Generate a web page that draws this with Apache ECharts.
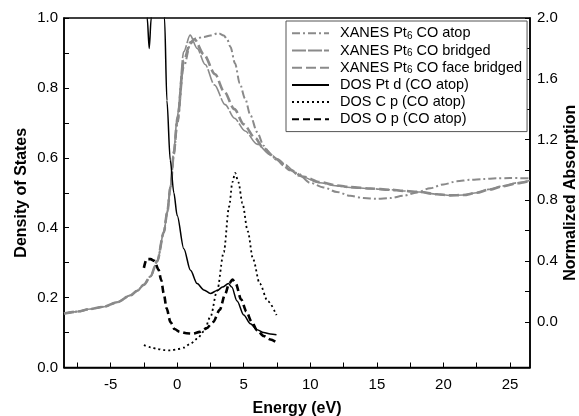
<!DOCTYPE html>
<html><head><meta charset="utf-8">
<script src="https://cdn.jsdelivr.net/npm/echarts@6/dist/echarts.min.js"></script>
<style>html,body{margin:0;padding:0;background:#fff}#c{width:579px;height:416px}</style>
</head><body><div id="c"></div>
<script>
// ---- Data ----
// XANES Pt6 CO atop (right axis)
const atopX = [-8.5,-7.5,-6.5,-5.5,-4.5,-3.5,-3.0,-2.5,-2.0,-1.5,-1.0,-0.75,-0.5,-0.25,0.0,0.5,1.0,1.35,2.0,2.5,3.1,3.5,3.75,4.0,4.35,4.7,5.1,5.5,6.0,6.5,7.0,7.5,8.0,9.0,10.0,11.0,12.0,13.0,14.0,15.0,16.0,17.0,18.0,19.0,20.0,21.0,22.0,23.0,24.0,25.0,26.5];
const atopY = [0.055,0.068,0.085,0.100,0.130,0.175,0.205,0.245,0.300,0.400,0.590,0.720,0.890,1.100,1.300,1.680,1.830,1.865,1.875,1.885,1.900,1.885,1.860,1.810,1.700,1.570,1.470,1.360,1.250,1.160,1.100,1.065,1.030,0.980,0.915,0.885,0.855,0.830,0.815,0.810,0.815,0.830,0.852,0.880,0.905,0.925,0.935,0.940,0.945,0.947,0.945];
// XANES Pt6 CO bridged (right axis)
const bridX = [-8.5,-7.5,-6.5,-5.5,-4.5,-3.5,-3.0,-2.5,-2.0,-1.5,-1.0,-0.75,-0.5,-0.25,0.0,0.5,0.97,1.5,2.1,2.8,3.6,4.3,5.1,6.0,7.0,8.0,9.2,10.7,12.0,13.0,14.5,16.0,17.0,18.2,19.5,20.5,21.5,22.5,23.4,24.5,25.5,26.5];
const bridY = [0.055,0.068,0.085,0.100,0.130,0.175,0.205,0.245,0.300,0.400,0.590,0.720,0.900,1.130,1.350,1.780,1.887,1.800,1.694,1.560,1.430,1.340,1.256,1.170,1.100,1.040,0.960,0.916,0.895,0.885,0.877,0.870,0.862,0.855,0.840,0.833,0.835,0.850,0.872,0.895,0.915,0.930];
// XANES Pt6 CO face bridged (right axis)
const faceX = [-8.5,-7.5,-6.5,-5.5,-4.5,-3.5,-3.0,-2.5,-2.0,-1.5,-1.0,-0.75,-0.5,-0.25,0.0,0.5,1.0,1.3,2.0,2.85,3.5,4.3,5.0,5.84,6.5,7.5,8.5,9.5,10.7,12.0,13.0,14.5,16.0,17.0,18.2,19.5,20.5,21.5,22.5,23.4,24.5,25.5,26.5];
const faceY = [0.055,0.068,0.085,0.100,0.130,0.175,0.205,0.245,0.300,0.400,0.590,0.720,0.890,1.110,1.320,1.720,1.840,1.860,1.760,1.630,1.520,1.400,1.300,1.212,1.140,1.070,1.000,0.955,0.920,0.898,0.887,0.878,0.870,0.862,0.855,0.840,0.833,0.835,0.850,0.870,0.893,0.912,0.928];
// DOS Pt d (CO atop) (left axis)
const ptdX = [-2.5,-2.25,-2.1,-1.95,-1.6,-1.2,-0.95,-0.77,-0.52,-0.25,0.0,0.5,1.0,1.5,2.0,2.5,3.0,3.4,3.85,4.1,4.5,5.0,5.5,6.0,6.5,7.0,7.46];
const ptdY = [1.40,1.00,0.913,1.00,1.40,1.30,1.00,0.764,0.593,0.500,0.435,0.340,0.278,0.240,0.222,0.212,0.220,0.230,0.240,0.230,0.190,0.150,0.125,0.108,0.100,0.096,0.094];
// DOS C p (CO atop) (left axis)
const cpX = [-2.5,-2.0,-1.5,-1.0,-0.5,0.0,0.5,1.0,1.5,2.0,2.5,3.0,3.5,3.9,4.15,4.35,4.6,4.9,5.3,5.7,6.2,6.8,7.46];
const cpY = [0.064,0.058,0.053,0.050,0.049,0.052,0.057,0.068,0.082,0.103,0.145,0.220,0.330,0.460,0.530,0.557,0.530,0.470,0.390,0.310,0.240,0.190,0.150];
// DOS O p (CO atop) (left axis)
const opX = [-2.5,-2.3,-2.0,-1.7,-1.4,-1.2,-1.0,-0.8,-0.5,-0.2,0.2,0.7,1.2,1.7,2.2,2.7,3.2,3.6,3.9,4.15,4.4,4.8,5.2,5.6,6.0,6.5,7.0,7.46];
const opY = [0.285,0.310,0.310,0.305,0.280,0.250,0.210,0.170,0.130,0.110,0.102,0.098,0.097,0.102,0.112,0.130,0.165,0.210,0.240,0.252,0.240,0.195,0.160,0.130,0.107,0.090,0.080,0.072];

const seriesNames = ['XANES Pt6 CO atop','XANES Pt6 CO bridged','XANES Pt6 CO face bridged','DOS Pt d (CO atop)','DOS C p (CO atop)','DOS O p (CO atop)'];
const xTickVals = [-7.5,-5,-2.5,0,2.5,5,7.5,10,12.5,15,17.5,20,22.5,25];
const xLabelVals = [-5,0,5,10,15,20,25];
const rTickVals = [0,0.2,0.4,0.6,0.8,1.0,1.2,1.4,1.6,1.8,2.0];
const rLabelVals = [0,0.4,0.8,1.2,1.6,2.0];

const zip = (xs, ys) => xs.map((x, i) => [x, ys[i]]);
const GRAY = '#8a8a8a';
const FONT = 'Liberation Sans, Arial, sans-serif';

const chart = echarts.init(document.getElementById('c'), null, {renderer: 'canvas'});
const axisCommon = {
  axisLine: {show: true, onZero: false, lineStyle: {color: '#000', width: 1.5}},
  splitLine: {show: false},
  nameMoveOverlap: false,
  axisLabel: {color: '#000', fontSize: 15, fontFamily: FONT},
  nameTextStyle: {color: '#000', fontSize: 16, fontWeight: 'bold', fontFamily: FONT}
};
function mk(name, xs, ys, yIdx, color, width, type, z) {
  return {
    name, type: 'line', yAxisIndex: yIdx, data: zip(xs, ys), symbol: 'none', showSymbol: false,
    smooth: 0.3, smoothMonotone: 'x', z: z,
    lineStyle: {color, width, type}, itemStyle: {color}
  };
}
function legendText(n) {
  const i = n.indexOf('Pt6');
  if (i < 0) return '{a|' + n + '}';
  return '{a|' + n.slice(0, i) + 'Pt}{s|6}{a|' + n.slice(i + 3) + '}';
}
chart.setOption({
  animation: false,
  backgroundColor: '#fff',
  grid: {left: 64, right: 49, top: 18, bottom: 48.5, show: true, borderColor: '#000', borderWidth: 1.5,
         containLabel: false, outerBoundsMode: 'none'},
  legend: {
    left: 286, top: 21, orient: 'vertical',
    backgroundColor: '#fff', borderColor: '#555', borderWidth: 1,
    padding: [4, 5, 4, 5], itemGap: 0.6, itemWidth: 37, itemHeight: 10,
    itemStyle: {opacity: 0},
    data: seriesNames,
    formatter: legendText,
    textStyle: {color: '#000', fontSize: 14.5, fontFamily: FONT, lineHeight: 16.6, padding: [0, 0, 0, 6],
      rich: {a: {fontSize: 14.5, fontFamily: FONT, lineHeight: 16.6, color: '#000'},
             s: {fontSize: 10, fontFamily: FONT, lineHeight: 12, padding: [6, 0, 0, 0], color: '#000'}}}
  },
  xAxis: Object.assign({}, axisCommon, {
    type: 'value', min: -8.5, max: 26.5, name: 'Energy (eV)', nameLocation: 'middle', nameGap: 33,
    axisTick: {inside: true, length: 5, lineStyle: {color: '#000', width: 1}, customValues: xTickVals},
    axisLabel: Object.assign({}, axisCommon.axisLabel, {margin: 10, customValues: xLabelVals})
  }),
  yAxis: [
    Object.assign({}, axisCommon, {
      type: 'value', min: 0, max: 1, interval: 0.2, position: 'left',
      name: 'Density of States', nameLocation: 'middle', nameGap: 34,
      axisTick: {inside: true, length: 5, lineStyle: {color: '#000', width: 1}},
      minorTick: {show: true, splitNumber: 2, length: 5, lineStyle: {color: '#000', width: 1}},
      axisLabel: Object.assign({}, axisCommon.axisLabel, {margin: 6, formatter: v => v.toFixed(1)})
    }),
    Object.assign({}, axisCommon, {
      type: 'value', min: -0.3, max: 2.0, position: 'right',
      name: 'Normalized Absorption', nameLocation: 'middle', nameGap: 33, nameRotate: 90,
      axisTick: {inside: true, length: 5, lineStyle: {color: '#000', width: 1}, customValues: rTickVals},
      axisLabel: Object.assign({}, axisCommon.axisLabel, {margin: 7, customValues: rLabelVals, formatter: v => v.toFixed(1)})
    })
  ],
  series: [
    mk(seriesNames[0], atopX, atopY, 1, GRAY, 2, [8, 3, 2, 3], 2),
    mk(seriesNames[1], bridX, bridY, 1, GRAY, 1.6, [14, 2], 3),
    mk(seriesNames[2], faceX, faceY, 1, GRAY, 2.6, [10, 4], 2),
    mk(seriesNames[3], ptdX, ptdY, 0, '#000', 1.5, 'solid', 5),
    mk(seriesNames[4], cpX, cpY, 0, '#000', 1.8, [2, 3], 5),
    mk(seriesNames[5], opX, opY, 0, '#000', 2.6, [7, 4], 5)
  ]
});
</script></body></html>
